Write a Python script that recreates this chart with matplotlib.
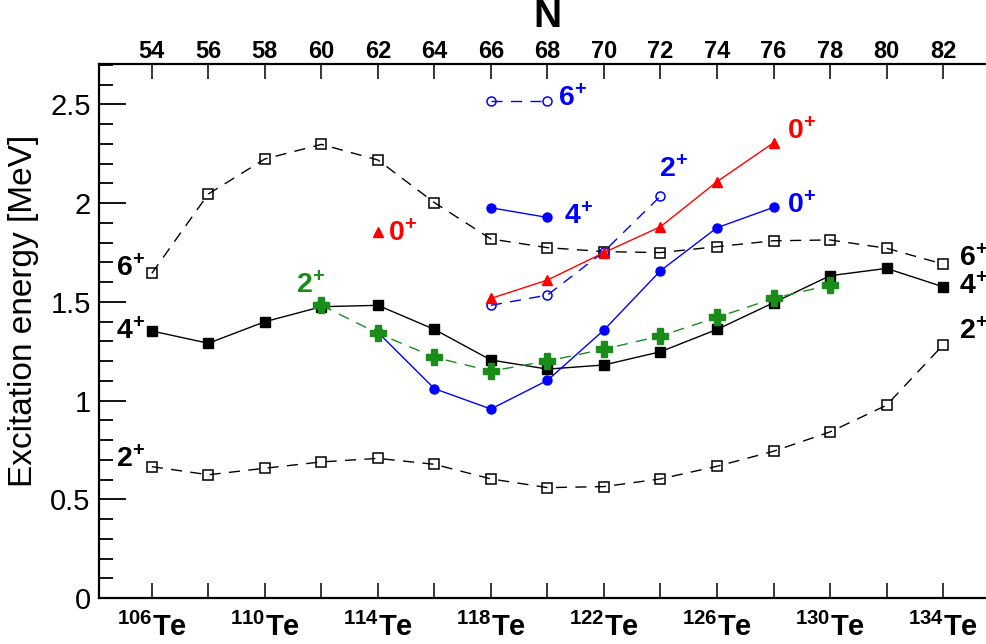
import matplotlib
matplotlib.use("Agg")
import matplotlib.pyplot as plt
import numpy as np
from matplotlib.ticker import MultipleLocator, FormatStrFormatter

plt.rcParams['font.family'] = ['Liberation Sans', 'DejaVu Sans']
plt.rcParams['mathtext.fontset'] = 'custom'
plt.rcParams['mathtext.rm'] = 'Liberation Sans'
plt.rcParams['mathtext.bf'] = 'Liberation Sans:bold'

# neutron numbers and isotope labels
N_all = [54, 56, 58, 60, 62, 64, 66, 68, 70, 72, 74, 76, 78, 80, 82]
iso_N = [54, 58, 62, 66, 70, 74, 78, 82]
iso_labels = [106, 110, 114, 118, 122, 126, 130, 134]

# ground band (exp.)
e2_gs = [0.665, 0.624, 0.657, 0.689, 0.707, 0.677, 0.603, 0.559, 0.564, 0.603, 0.667, 0.743, 0.841, 0.976, 1.281]
e4_gs = [1.352, 1.290, 1.399, 1.475, 1.482, 1.360, 1.205, 1.159, 1.180, 1.247, 1.360, 1.495, 1.632, 1.669, 1.576]
e6_gs = [1.644, 2.046, 2.223, 2.297, 2.218, 2.002, 1.818, 1.774, 1.754, 1.749, 1.779, 1.809, 1.813, 1.771, 1.691]

# green 2+
N_green = [60, 62, 64, 66, 68, 70, 72, 74, 76, 78]
e_green = [1.482, 1.340, 1.219, 1.149, 1.200, 1.260, 1.327, 1.421, 1.517, 1.585]

# blue band
N_b0 = [62, 64, 66, 68, 70, 72, 74, 76]
e_b0 = [1.345, 1.060, 0.957, 1.102, 1.357, 1.657, 1.875, 1.978]
N_b4 = [66, 68]
e_b4 = [1.976, 1.927]
N_b6 = [66, 68]
e_b6 = [2.518, 2.518]
N_b2 = [66, 68, 70, 72]
e_b2 = [1.482, 1.534, 1.754, 2.035]

# red 0+
N_r0 = [66, 68, 70, 72, 74, 76]
e_r0 = [1.517, 1.610, 1.749, 1.880, 2.108, 2.305]
N_r0s = [62]
e_r0s = [1.855]

green = '#1a8c1a'

fig = plt.figure(figsize=(9.86, 6.44), dpi=100)
ax = fig.add_axes([99/986, 1 - 598/644, 1 - 99/986, (598 - 64)/644])

dash = (8, 6)
ax.plot(N_all, e2_gs, color='k', lw=1, dashes=dash, marker='s', ms=7, mfc='none', mec='k', mew=1.1)
ax.plot(N_all, e6_gs, color='k', lw=1, dashes=dash, marker='s', ms=7, mfc='none', mec='k', mew=1.1)
ax.plot(N_all, e4_gs, color='k', lw=1, marker='s', ms=7)

ax.plot(N_b0, e_b0, color='blue', lw=1, marker='o', ms=6.5)
ax.plot(N_b4, e_b4, color='blue', lw=1, marker='o', ms=6.5)
ax.plot(N_b6, e_b6, color='blue', lw=1, dashes=dash, marker='o', ms=6.5, mfc='none', mew=1.1)
ax.plot(N_b2, e_b2, color='blue', lw=1, dashes=dash, marker='o', ms=6.5, mfc='none', mew=1.1)

ax.plot(N_r0, e_r0, color='red', lw=1, marker='^', ms=6.5)
ax.plot(N_r0s, e_r0s, color='red', lw=0, marker='^', ms=6.5)

ax.plot(N_green, e_green, color=green, lw=1, dashes=dash, marker='P', ms=11, mec=green)

# state labels
fs = 20.5
def lab(x, y, s, c='k', ha='left'):
    ax.text(x, y, r'$\mathbf{%s^{+}}$' % s, color=c, fontsize=fs, ha=ha, va='center')

lab(53.75, 1.67, '6', ha='right')
lab(53.75, 1.35, '4', ha='right')
lab(53.75, 0.70, '2', ha='right')
lab(59.6, 1.58, '2', c=green, ha='center')
lab(62.35, 1.845, '0', c='red')
lab(68.37, 2.53, '6', c='blue')
lab(68.58, 1.93, '4', c='blue')
lab(71.95, 2.17, '2', c='blue')
lab(76.48, 2.36, '0', c='red')
lab(76.48, 1.985, '0', c='blue')
lab(82.55, 1.72, '6')
lab(82.55, 1.575, '4')
lab(82.55, 1.35, '2')

ax.set_xlim(52.13, 83.52)
ax.set_ylim(0, 2.704)

for sp in ['left', 'bottom', 'top']:
    ax.spines[sp].set_linewidth(1.6)
ax.spines['right'].set_visible(False)

ax.yaxis.set_major_locator(MultipleLocator(0.5))
ax.yaxis.set_minor_locator(MultipleLocator(0.1))
ax.yaxis.set_major_formatter(FormatStrFormatter('%g'))
ax.tick_params(axis='y', which='major', direction='in', length=19.5, width=1.3, labelsize=21, pad=6)
ax.tick_params(axis='y', which='minor', direction='in', length=10, width=1.3)
ax.set_ylabel('Excitation energy [MeV]', fontsize=24)
ax.yaxis.set_label_coords(-0.068, 0.537)

ax.set_xticks(N_all)
ax.set_xticklabels([r'$\mathbf{^{%d}Te}$' % iso_labels[iso_N.index(n)] if n in iso_N else '' for n in N_all])
ax.tick_params(axis='x', direction='in', length=11, width=1.1, labelsize=21, pad=11)

top = ax.twiny()
top.set_xlim(ax.get_xlim())
top.set_xticks(N_all)
top.set_xticklabels([str(n) for n in N_all], fontsize=17, fontweight='bold')
top.tick_params(axis='x', direction='in', length=11, width=1.1, pad=1)
for sp in ['left', 'bottom', 'right', 'top']:
    top.spines[sp].set_visible(False)

fig.text(547/986, 1 - 17/644, 'N', fontsize=28, fontweight='bold', ha='center', va='center')

fig.savefig('out.png', dpi=100)
